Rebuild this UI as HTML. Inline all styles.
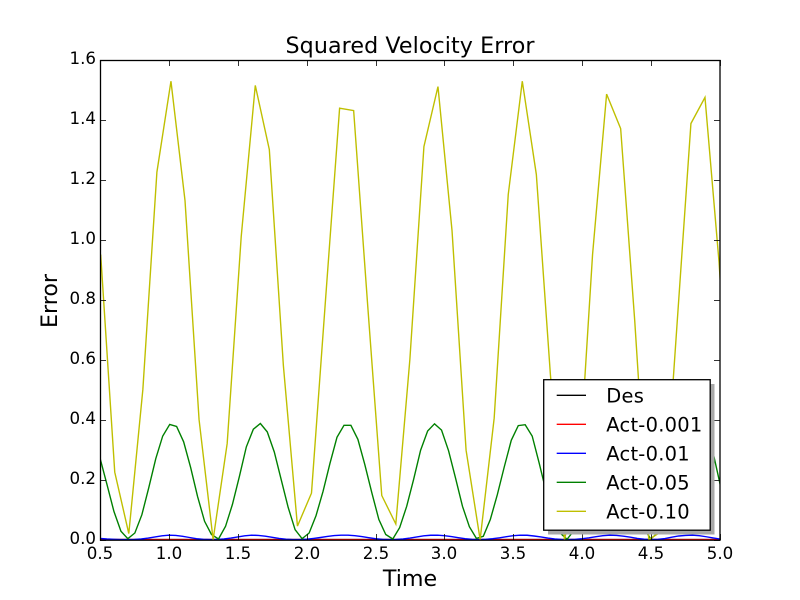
<!DOCTYPE html>
<html>
<head>
<meta charset="utf-8">
<title>Squared Velocity Error</title>
<style>
html,body{margin:0;padding:0;background:#fff;width:800px;height:600px;overflow:hidden}
svg{display:block}
text{font-family:"DejaVu Sans","Liberation Sans",sans-serif;fill:#000}
</style>
</head>
<body>
<svg id="chart" xmlns="http://www.w3.org/2000/svg" width="800" height="600" viewBox="0 0 800 600">
<rect x="0" y="0" width="800" height="600" fill="#fff"/>
<defs><clipPath id="plot-clip"><rect x="100" y="60" width="620.5" height="480.5"/></clipPath></defs>
<g id="series" clip-path="url(#plot-clip)"></g>
<rect x="100.5" y="60.5" width="619.5" height="479.7" fill="none" stroke="#000" stroke-width="1.3"/>
<g id="ticks"></g>
<text x="410" y="53" text-anchor="middle" font-size="22.2" textLength="249" lengthAdjust="spacing">Squared Velocity Error</text>
<text x="410" y="586" text-anchor="middle" font-size="22.2">Time</text>
<text transform="translate(57,301) rotate(-90)" text-anchor="middle" font-size="22.2">Error</text>
<g id="legend">
<rect x="548" y="384" width="166.5" height="150.5" fill="#a8a8a8"/>
<rect x="543.7" y="379.7" width="166.5" height="150.5" fill="#fff" stroke="#000" stroke-width="1.3"/>
</g>
</svg>
<script>
var seriesNames = ['Des', 'Act-0.001', 'Act-0.01', 'Act-0.05', 'Act-0.10'];
var seriesColors = ['#000000', '#ff0000', '#0000ff', '#008000', '#bfbf00'];
var xTicks = ['0.5', '1.0', '1.5', '2.0', '2.5', '3.0', '3.5', '4.0', '4.5', '5.0'];
var yTicks = ['0.0', '0.2', '0.4', '0.6', '0.8', '1.0', '1.2', '1.4', '1.6'];

var desTime = [0.5, 5.0];
var desValues = [0, 0];

var redTime = [0.5, 0.75, 1.0, 1.25, 1.5, 1.75, 2.0, 2.25, 2.5, 2.75, 3.0, 3.25, 3.5, 3.75, 4.0, 4.25, 4.5, 4.75, 5.0];
var redValues = [0.00005, 0, 0.00015, 0, 0.00012, 0.0001, 0, 0.00015, 0.00002, 0.0001, 0.00012, 0, 0.00015, 0.00005, 0.00008, 0.00012, 0, 0.00015, 0];

var blueTime = [0.5,0.55,0.6,0.65,0.7,0.75,0.8,0.85,0.9,0.95,1.0,1.05,1.1,1.15,1.2,1.25,1.3,1.35,1.4,1.45,1.5,1.55,1.6,1.65,1.7,1.75,1.8,1.85,1.9,1.95,2.0,2.05,2.1,2.15,2.2,2.25,2.3,2.35,2.4,2.45,2.5,2.55,2.6,2.65,2.7,2.75,2.8,2.85,2.9,2.95,3.0,3.05,3.1,3.15,3.2,3.25,3.3,3.35,3.4,3.45,3.5,3.55,3.6,3.65,3.7,3.75,3.8,3.85,3.9,3.95,4.0,4.05,4.1,4.15,4.2,4.25,4.3,4.35,4.4,4.45,4.5,4.55,4.6,4.65,4.7,4.75,4.8,4.85,4.9,4.95,5.0];
var blueValues = [0.004,0.002,0.001,0.0002,0,0.0005,0.002,0.005,0.009,0.0128,0.0148,0.014,0.011,0.007,0.003,0.001,0,0.0005,0.002,0.005,0.009,0.0128,0.0148,0.014,0.0112,0.0075,0.004,0.0015,0.0002,0.0002,0.0015,0.004,0.007,0.0105,0.0135,0.0148,0.0148,0.013,0.0102,0.0065,0.003,0.001,0,0.0005,0.002,0.005,0.009,0.0125,0.0145,0.0148,0.013,0.01,0.0065,0.003,0.001,0,0.001,0.003,0.006,0.0098,0.013,0.0148,0.0145,0.012,0.009,0.005,0.002,0.0005,0,0.0008,0.003,0.006,0.0098,0.013,0.0148,0.014,0.0115,0.008,0.004,0.0015,0,0.001,0.0035,0.008,0.012,0.014,0.0148,0.013,0.0095,0.0055,0.002];

var greenTime = [0.5,0.551,0.601,0.652,0.702,0.753,0.804,0.854,0.905,0.955,1.006,1.056,1.107,1.158,1.208,1.259,1.309,1.36,1.411,1.461,1.512,1.562,1.613,1.664,1.714,1.765,1.815,1.866,1.916,1.967,2.018,2.068,2.119,2.169,2.22,2.271,2.321,2.372,2.422,2.473,2.524,2.574,2.625,2.675,2.726,2.776,2.827,2.878,2.928,2.979,3.03,3.08,3.131,3.181,3.232,3.282,3.333,3.384,3.434,3.485,3.536,3.586,3.637,3.687,3.738,3.788,3.839,3.89,3.94,3.991,4.041,4.092,4.143,4.193,4.244,4.294,4.345,4.396,4.446,4.497,4.547,4.598,4.649,4.699,4.75,4.8,4.851,4.902,4.952,5.003];
var greenValues = [0.272,0.183,0.094,0.028,0.003,0.022,0.083,0.173,0.27,0.345,0.384,0.377,0.326,0.24,0.144,0.061,0.017,0.002,0.044,0.117,0.211,0.309,0.368,0.387,0.359,0.292,0.2,0.107,0.033,0.003,0.022,0.08,0.161,0.254,0.341,0.381,0.381,0.334,0.25,0.156,0.067,0.017,0.002,0.04,0.111,0.2,0.298,0.362,0.386,0.365,0.296,0.206,0.111,0.043,0.004,0.011,0.067,0.15,0.242,0.331,0.38,0.383,0.345,0.256,0.16,0.08,0.022,0.001,0.03,0.1,0.19,0.285,0.355,0.387,0.37,0.3,0.21,0.115,0.04,0.002,0.022,0.09,0.18,0.28,0.35,0.385,0.39,0.365,0.285,0.18];

var yellowTime = [0.505,0.607,0.709,0.811,0.913,1.015,1.117,1.219,1.321,1.423,1.525,1.627,1.729,1.831,1.933,2.035,2.137,2.239,2.341,2.443,2.545,2.647,2.749,2.851,2.953,3.055,3.157,3.259,3.361,3.463,3.565,3.667,3.769,3.871,3.973,4.075,4.177,4.279,4.381,4.483,4.585,4.687,4.789,4.891,4.993,5.095];
var yellowValues = [0.95,0.225,0.02,0.5,1.225,1.528,1.13,0.4,0,0.32,1.01,1.514,1.3,0.58,0.045,0.155,0.8,1.438,1.43,0.78,0.147,0.052,0.6,1.31,1.51,1.03,0.298,0,0.405,1.15,1.528,1.217,0.55,0,0.2,0.95,1.485,1.37,0.73,0,0.03,0.71,1.387,1.474,0.925,0.2];

var NS = 'http://www.w3.org/2000/svg';
function xScale(t) { return 100 + (t - 0.5) * 620 / 4.5; }
function yScale(v) { return 539.6 - v * 480 / 1.6; }

function drawLine(parent, times, values, color) {
  var pts = [];
  for (var i = 0; i < times.length && i < values.length; i++) {
    pts.push(xScale(times[i]).toFixed(2) + ',' + yScale(values[i]).toFixed(2));
  }
  var line = document.createElementNS(NS, 'polyline');
  line.setAttribute('points', pts.join(' '));
  line.setAttribute('fill', 'none');
  line.setAttribute('stroke', color);
  line.setAttribute('stroke-width', '1.39');
  line.setAttribute('stroke-linejoin', 'miter');
  parent.appendChild(line);
  return line;
}

var seriesGroup = document.getElementById('series');
var l0 = drawLine(seriesGroup, desTime, desValues, seriesColors[0]);


var l1 = drawLine(seriesGroup, redTime, redValues, seriesColors[1]);


var l2 = drawLine(seriesGroup, blueTime, blueValues, seriesColors[2]);


var l3 = drawLine(seriesGroup, greenTime, greenValues, seriesColors[3]);


var l4 = drawLine(seriesGroup, yellowTime, yellowValues, seriesColors[4]);



var ticksGroup = document.getElementById('ticks');
function tickMark(x1, y1, x2, y2) {
  var m = document.createElementNS(NS, 'line');
  m.setAttribute('x1', x1);
  m.setAttribute('y1', y1);
  m.setAttribute('x2', x2);
  m.setAttribute('y2', y2);
  m.setAttribute('stroke', '#000');
  m.setAttribute('stroke-width', '0.8');
  
  
  ticksGroup.appendChild(m);
}
function tickLabel(str, x, y, anchor) {
  var t = document.createElementNS(NS, 'text');
  t.setAttribute('x', x);
  t.setAttribute('y', y);
  t.setAttribute('text-anchor', anchor);
  t.setAttribute('font-size', '16.67');
  
  
  t.textContent = str;
  ticksGroup.appendChild(t);
}
xTicks.forEach(function (s) {
  var x = Math.round(xScale(parseFloat(s))) + 0.5;
  tickMark(x, 540, x, 534);
  tickMark(x, 60, x, 66);
  tickLabel(s, x - 0.5, 559, 'middle');
});
yTicks.forEach(function (s) {
  var y = Math.round(yScale(parseFloat(s))) + 0.5;
  tickMark(100, y, 106, y);
  tickMark(720, y, 714, y);
  tickLabel(s, 96, y + 3.5, 'end');
});

var legendGroup = document.getElementById('legend');
seriesNames.forEach(function (name, i) {
  var y = 395.3 + i * 29;
  var h = document.createElementNS(NS, 'line');
  h.setAttribute('x1', 556.7);
  h.setAttribute('x2', 586);
  h.setAttribute('y1', y);
  h.setAttribute('y2', y);
  h.setAttribute('stroke', seriesColors[i]);
  h.setAttribute('stroke-width', '1.39');
  
  
  legendGroup.appendChild(h);
  var t = document.createElementNS(NS, 'text');
  t.setAttribute('x', 606.3);
  t.setAttribute('y', y + 7);
  t.setAttribute('font-size', '19.44');
  t.setAttribute('letter-spacing', '0.25');
  
  
  t.textContent = name;
  legendGroup.appendChild(t);
});
</script>
</body>
</html>
